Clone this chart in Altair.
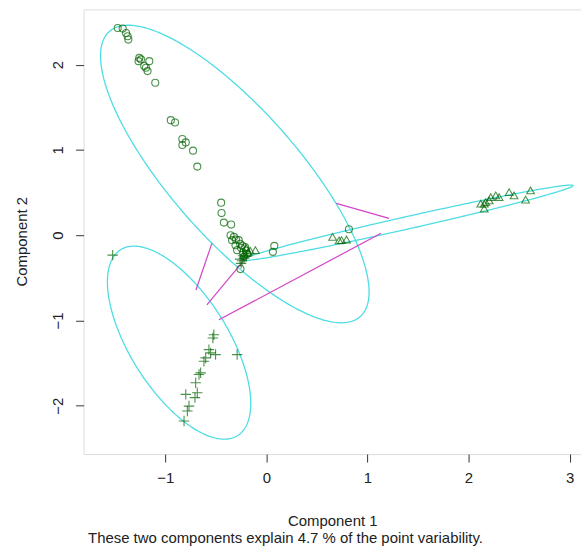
import altair as alt
import pandas as pd
import numpy as np

# ---- point coordinates (Component 1, Component 2) by cluster ----
circ_x = [-1.470, -1.421, -1.388, -1.372, -1.365, -1.257, -1.240, -1.264, -1.158, -1.191,
          -1.175, -1.208, -1.099, -0.945, -0.903, -0.831, -0.797, -0.831, -0.725, -0.683,
          -0.447, -0.443, -0.420, -0.348, -0.354, -0.339, -0.273, -0.305, -0.289, -0.256,
          0.079, 0.065, 0.817, -0.25, -0.23, -0.20, -0.22, -0.26, -0.30, -0.32,
          -0.24, -0.21, -0.19]
circ_y = [2.431, 2.424, 2.372, 2.334, 2.295, 2.080, 2.062, 2.042, 2.042, 1.964,
          1.925, 1.984, 1.789, 1.350, 1.322, 1.128, 1.089, 1.058, 0.992, 0.805,
          0.382, 0.260, 0.148, 0.125, 0.000, -0.058, -0.058, -0.117, -0.175, -0.397,
          -0.125, -0.195, 0.070, -0.15, -0.20, -0.18, -0.25, -0.10, -0.05, -0.02,
          -0.12, -0.14, -0.22]

tri_x = [-0.108, 0.656, 0.744, 0.793, 0.72, -0.22, -0.18, -0.20, -0.16,
         2.156, 2.122, 2.171, 2.220, 2.270, 2.303, 2.402, 2.451, 2.614, 2.565, 2.156, 2.205]
tri_y = [-0.175, -0.020, -0.058, -0.050, -0.06, -0.22, -0.20, -0.15, -0.18,
         0.312, 0.370, 0.389, 0.447, 0.467, 0.447, 0.505, 0.467, 0.525, 0.417, 0.370, 0.408]

cross_x = [-1.520, -0.519, -0.529, -0.568, -0.551, -0.502, -0.600, -0.617, -0.289, -0.650,
           -0.666, -0.699, -0.683, -0.706, -0.797, -0.765, -0.781, -0.814, -0.24, -0.22, -0.25,
           -0.23, -0.26, -0.20]
cross_y = [-0.233, -1.167, -1.205, -1.342, -1.380, -1.400, -1.439, -1.478, -1.400, -1.614,
           -1.634, -1.730, -1.847, -1.905, -1.867, -2.004, -2.062, -2.179, -0.30, -0.27, -0.33,
           -0.24, -0.28, -0.25]

# ---- cluster ellipses: centre, semi-axes, rotation (degrees, data space) ----
ell_id = ["c1", "c2", "c3"]
ell_cx = [-0.312, 1.396, -0.863]
ell_cy = [0.718, 0.146, -1.260]
ell_a = [2.086, 1.696, 1.237]
ell_b = [0.677, 0.072, 0.504]
ell_ang = [-54.6, 14.94, -63.8]

# ---- segments between ellipses ----
seg_x1 = [0.692, -0.469, -0.696, -0.588]
seg_y1 = [0.373, -0.992, -0.642, -0.817]
seg_x2 = [1.214, 1.135, -0.538, -0.204]
seg_y2 = [0.198, 0.023, -0.093, -0.268]

x_ticks = [-1, 0, 1, 2, 3]
y_ticks = [-2, -1, 0, 1, 2]
SUB = "These two components explain 4.7 % of the point variability."

FONT = "Liberation Sans"
FS = 15
GREEN = "#006400"
CYAN = "#4edde4"
MAG = "#d444c8"

# build ellipse outlines
t = np.linspace(0, 2 * np.pi, 361)
rows = []
for i, e in enumerate(ell_id):
    th = np.deg2rad(ell_ang[i])
    ex = ell_cx[i] + ell_a[i] * np.cos(t) * np.cos(th) - ell_b[i] * np.sin(t) * np.sin(th)
    ey = ell_cy[i] + ell_a[i] * np.cos(t) * np.sin(th) + ell_b[i] * np.sin(t) * np.cos(th)
    for k in range(len(t)):
        rows.append({"id": e, "o": k, "x": float(ex[k]), "y": float(ey[k])})
ell_df = pd.DataFrame(rows)

circ_df = pd.DataFrame({"x": circ_x, "y": circ_y})
tri_df = pd.DataFrame({"x": tri_x, "y": tri_y})
cross_df = pd.DataFrame({"x": cross_x, "y": cross_y})
seg_df = pd.DataFrame({"x": seg_x1, "y": seg_y1, "x2": seg_x2, "y2": seg_y2})

xscale = alt.Scale(domain=[-1.808, 3.113], nice=False, zero=False)
yscale = alt.Scale(domain=[-2.567, 2.649], nice=False, zero=False)

xaxis = alt.Axis(values=x_ticks, domain=False, grid=False, tickSize=8, tickColor="#333",
                 tickWidth=1, labelFontSize=FS, labelColor="#222", labelFont=FONT,
                 labelPadding=9, title="Component 1", titleFont=FONT, titleFontSize=FS,
                 titleFontWeight="normal", titleColor="#222", titleX=250, titleY=67,
                 titleBaseline="middle", titleAlign="center")
yaxis = alt.Axis(values=y_ticks, domain=False, grid=False, tickSize=8, tickColor="#333",
                 tickWidth=1, labelFontSize=FS, labelColor="#222", labelFont=FONT,
                 labelAngle=-90, labelAlign="center", labelBaseline="bottom", labelPadding=10,
                 title="Component 2", titleFont=FONT, titleFontSize=FS,
                 titleFontWeight="normal", titleColor="#222", titleX=-62, titleY=233,
                 titleBaseline="middle", titleAlign="center")

X = alt.X("x:Q", scale=xscale, axis=xaxis)
Y = alt.Y("y:Q", scale=yscale, axis=yaxis)

ellipses = alt.Chart(ell_df).mark_line(color=CYAN, strokeWidth=1.3).encode(
    x=X, y=Y, detail="id:N", order="o:Q")

segs = alt.Chart(seg_df).mark_rule(color=MAG, strokeWidth=1.2).encode(
    x=X, y=Y, x2="x2:Q", y2="y2:Q")

circles = alt.Chart(circ_df).mark_point(shape="circle", filled=False, color=GREEN,
                                        size=50, strokeWidth=1.1).encode(x=X, y=Y)
tris = alt.Chart(tri_df).mark_point(shape="triangle-up", filled=False, color=GREEN,
                                    size=60, strokeWidth=1.1).encode(x=X, y=Y)
crosses = alt.Chart(cross_df).mark_point(shape="M-1,0L1,0M0,-1L0,1", filled=False,
                                         color=GREEN, size=110, strokeWidth=1.1).encode(x=X, y=Y)

sub = alt.Chart(pd.DataFrame({"t": [SUB]})).mark_text(
    font=FONT, fontSize=FS, color="#222", align="center", baseline="middle").encode(
    x=alt.value(203), y=alt.value(531), text="t:N")

chart = alt.layer(ellipses, segs, circles, tris, crosses, sub).properties(
    width=500, height=447,
    autosize=alt.AutoSizeParams(type="none"),
    padding={"left": 84, "top": 8, "right": 0, "bottom": 99},
).configure_view(stroke="#333", strokeWidth=1).configure(background="white")

chart.save("out.html", embed_options={"renderer": "svg", "actions": False})
